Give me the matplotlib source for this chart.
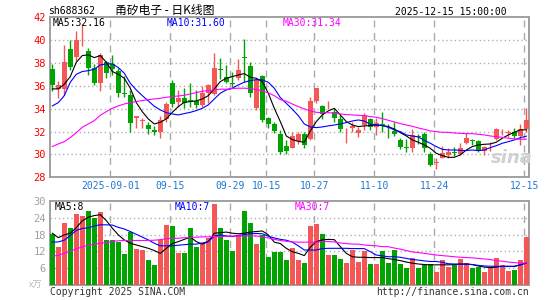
import numpy as np
import matplotlib
matplotlib.use('Agg')
import matplotlib.pyplot as plt

# daily candles, 2025-08-18 .. 2025-12-15 (80 trading days)
opens = [37.52, 35.75, 35.71, 39.24, 38.57, 40.78, 39.07, 37.61, 36.23, 38.07,
         37.90, 37.31, 35.40, 35.21, 33.17, 32.93, 32.58, 32.15, 32.00, 33.08,
         36.29, 34.63, 34.98, 34.75, 34.72, 34.34, 35.42, 35.30, 37.50, 36.76,
         36.26, 36.67, 38.55, 37.75, 34.10, 36.88, 33.17, 32.67, 31.80, 30.74,
         30.60, 31.18, 31.80, 31.33, 34.69, 34.22, 34.20, 33.69, 33.11, 32.03,
         32.29, 31.85, 32.58, 33.08, 32.44, 32.68, 32.08, 32.06, 31.27, 30.63,
         30.60, 31.60, 31.77, 30.04, 29.28, 29.72, 29.96, 30.19, 30.04, 30.98,
         31.24, 31.18, 30.34, 30.89, 31.36, 32.03, 31.92, 32.00, 31.65, 32.23]
highs = [37.93, 36.40, 39.59, 40.06, 40.82, 41.40, 39.36, 37.90, 38.86, 38.19,
         38.72, 37.61, 36.90, 35.65, 33.40, 33.17, 32.88, 32.50, 33.40, 34.63,
         36.53, 35.65, 35.80, 36.29, 35.65, 36.00, 36.15, 38.92, 38.48, 37.84,
         37.26, 38.36, 40.12, 38.13, 36.70, 36.96, 33.31, 32.82, 32.10, 31.27,
         31.95, 31.95, 32.00, 35.07, 35.85, 34.34, 34.69, 34.04, 33.46, 32.34,
         32.88, 32.44, 33.66, 33.17, 33.17, 33.75, 32.64, 32.88, 31.42, 31.33,
         32.23, 31.80, 31.95, 30.25, 29.66, 30.74, 30.60, 30.69, 31.00, 31.86,
         31.36, 31.27, 30.77, 31.12, 32.35, 32.23, 32.12, 32.35, 32.64, 34.04]
lows = [35.59, 34.90, 35.20, 37.40, 38.19, 39.50, 36.96, 36.09, 35.56, 36.67,
        36.96, 35.07, 35.07, 32.00, 32.29, 32.29, 31.82, 31.71, 31.47, 32.88,
        34.19, 34.19, 34.04, 34.19, 34.04, 34.19, 34.54, 35.20, 36.61, 36.23,
        35.94, 36.53, 36.38, 35.07, 33.90, 32.88, 32.29, 31.85, 30.00, 30.00,
        30.55, 30.90, 30.54, 31.27, 34.50, 33.08, 33.95, 32.88, 31.94, 30.98,
        32.00, 31.50, 32.15, 32.15, 31.71, 32.00, 31.41, 31.62, 30.48, 30.19,
        30.25, 30.90, 30.19, 29.02, 28.73, 29.66, 29.72, 29.90, 29.96, 30.89,
        30.83, 30.25, 29.96, 30.31, 31.27, 31.71, 31.56, 31.42, 30.83, 32.00]
closes = [36.09, 36.10, 38.10, 37.69, 40.06, 40.84, 37.61, 36.23, 38.72, 37.17,
          37.49, 35.39, 35.33, 32.79, 33.37, 32.98, 32.20, 32.00, 33.00, 34.42,
          34.42, 34.98, 34.48, 34.70, 34.34, 35.42, 36.06, 37.55, 37.43, 36.38,
          36.20, 37.40, 38.48, 35.42, 36.50, 33.02, 32.67, 32.06, 30.25, 30.31,
          31.62, 31.80, 30.83, 34.69, 35.82, 33.52, 34.26, 33.17, 32.23, 32.08,
          32.52, 32.15, 33.46, 32.44, 32.79, 32.62, 32.03, 31.77, 30.69, 30.58,
          31.71, 31.52, 30.54, 29.08, 29.34, 30.16, 30.25, 30.13, 30.54, 31.42,
          31.18, 30.31, 30.63, 30.95, 32.23, 32.08, 31.96, 31.65, 32.23, 33.02]

ma5 = [35.74, 35.74, 36.15, 36.82, 38.07, 38.66, 38.72, 38.48, 38.66, 38.07,
       37.26, 37.02, 36.67, 35.80, 34.54, 33.75, 33.11, 32.67, 32.82, 33.11,
       33.69, 34.19, 34.57, 34.63, 34.69, 34.86, 35.15, 35.74, 36.38, 36.67,
       36.82, 36.96, 37.08, 36.76, 36.67, 36.38, 35.36, 34.04, 32.88, 31.62,
       31.30, 31.15, 31.07, 32.06, 32.88, 33.46, 33.81, 34.04, 33.46, 32.88,
       32.58, 32.44, 32.50, 32.53, 32.58, 32.53, 32.44, 32.23, 31.91, 31.62,
       31.27, 31.07, 30.83, 30.54, 30.10, 29.90, 29.75, 29.75, 29.96, 30.39,
       30.69, 30.83, 30.89, 30.92, 31.07, 31.42, 31.71, 31.94, 32.15, 32.16]
ma10 = [34.25, 34.54, 35.15, 36.32, 37.02, 37.26, 37.34, 37.46, 37.84, 37.93,
        37.93, 37.61, 37.11, 36.23, 35.65, 35.15, 34.69, 34.22, 33.90, 33.66,
        33.55, 33.46, 33.58, 33.69, 33.84, 34.04, 34.34, 34.86, 35.36, 35.65,
        35.80, 36.09, 36.32, 36.47, 36.55, 36.53, 36.32, 35.80, 34.98, 34.48,
        33.96, 33.40, 32.67, 32.41, 32.35, 32.41, 32.50, 32.58, 32.67, 32.79,
        32.93, 33.02, 32.93, 32.64, 32.58, 32.53, 32.38, 32.15, 32.00, 31.71,
        31.62, 31.53, 31.24, 30.98, 30.69, 30.45, 30.39, 30.39, 30.36, 30.34,
        30.39, 30.34, 30.39, 30.60, 30.77, 30.98, 31.12, 31.27, 31.47, 31.60]
ma30 = [30.69, 30.92, 31.12, 31.47, 31.91, 32.38, 32.67, 32.96, 33.43, 33.75,
        34.04, 34.25, 34.42, 34.54, 34.63, 34.72, 34.80, 34.86, 34.92, 35.01,
        35.07, 35.12, 35.18, 35.30, 35.42, 35.53, 35.59, 35.65, 35.71, 35.71,
        35.77, 35.80, 35.80, 35.77, 35.68, 35.56, 35.39, 35.15, 34.80, 34.66,
        34.42, 34.19, 33.99, 33.81, 33.69, 33.66, 33.66, 33.61, 33.55, 33.49,
        33.46, 33.43, 33.40, 33.31, 33.26, 33.14, 32.99, 32.85, 32.70, 32.58,
        32.47, 32.32, 32.20, 32.06, 32.00, 31.94, 31.94, 31.88, 31.85, 31.82,
        31.82, 31.77, 31.71, 31.62, 31.56, 31.50, 31.42, 31.36, 31.33, 31.34]

# volume (x10k lots)
vol = [18.1, 13.7, 22.0, 20.2, 25.2, 24.5, 26.6, 24.1, 26.0, 15.9,
       16.2, 15.5, 10.9, 19.1, 13.0, 12.5, 9.1, 7.3, 15.9, 21.6,
       20.9, 11.5, 11.5, 20.5, 13.4, 14.9, 16.7, 29.1, 20.2, 16.1,
       12.3, 17.9, 26.3, 22.0, 14.7, 17.9, 10.1, 11.7, 11.9, 8.9,
       13.1, 8.9, 8.0, 20.9, 21.8, 18.3, 10.7, 10.7, 9.3, 8.0,
       12.5, 8.2, 12.2, 7.5, 7.5, 12.2, 8.0, 12.5, 7.5, 6.2,
       9.8, 6.2, 7.2, 7.5, 4.8, 8.9, 6.6, 7.2, 9.3, 8.0,
       6.2, 6.6, 4.8, 6.0, 9.8, 7.2, 5.0, 5.4, 8.9, 17.3]
vma5 = [18.5, 16.9, 17.9, 18.5, 20.5, 22.9, 24.2, 24.8, 25.1, 23.0,
        20.3, 17.9, 16.1, 14.9, 14.3, 13.7, 13.1, 12.3, 11.3, 13.1,
        14.8, 15.5, 16.3, 17.1, 15.5, 14.6, 15.5, 18.5, 18.7, 18.9,
        18.5, 18.3, 18.5, 18.9, 19.1, 19.3, 17.9, 15.3, 14.8, 13.1,
        11.9, 11.3, 10.5, 13.5, 15.5, 16.1, 16.3, 16.2, 13.7, 11.3,
        10.1, 9.9, 9.9, 9.8, 9.8, 9.8, 9.4, 9.1, 8.7, 8.2,
        7.8, 7.5, 7.3, 7.2, 7.2, 7.2, 7.2, 7.3, 7.5, 7.5,
        7.3, 6.8, 6.4, 6.2, 6.4, 6.7, 6.7, 6.6, 7.2, 7.9]
vma10 = [15.3, 15.4, 16.0, 17.7, 19.5, 20.2, 20.4, 21.1, 21.5, 21.5,
         21.4, 20.6, 20.0, 19.1, 18.1, 17.1, 16.1, 14.9, 14.0, 14.0,
         14.0, 14.2, 14.4, 14.6, 14.6, 15.0, 15.5, 17.5, 17.9, 17.5,
         17.3, 17.7, 18.0, 18.3, 18.4, 18.3, 17.4, 16.8, 16.3, 16.0,
         15.3, 14.0, 12.5, 12.5, 12.5, 13.0, 13.1, 13.1, 13.1, 13.1,
         13.0, 13.0, 13.0, 11.9, 10.7, 10.4, 10.1, 10.1, 9.9, 9.5,
         9.1, 8.9, 8.6, 8.4, 8.4, 8.1, 7.6, 7.5, 7.4, 7.4,
         7.3, 7.0, 6.8, 6.7, 6.7, 6.6, 6.6, 6.7, 7.2, 7.8]
vma30 = [10.3, 10.6, 11.3, 12.1, 12.9, 13.6, 14.2, 14.6, 14.9, 15.2,
         15.5, 15.8, 15.9, 15.9, 15.9, 15.9, 15.9, 16.0, 16.2, 16.5,
         16.7, 16.7, 16.9, 16.9, 17.1, 17.2, 17.2, 17.3, 17.3, 17.4,
         17.5, 17.5, 17.5, 17.5, 17.5, 17.2, 16.8, 16.3, 15.9, 15.6,
         15.4, 15.3, 15.3, 15.3, 15.3, 15.5, 15.5, 15.4, 15.0, 14.8,
         14.6, 14.6, 14.3, 14.1, 14.0, 13.7, 13.7, 13.2, 12.8, 12.3,
         11.8, 11.6, 11.3, 11.0, 10.7, 10.5, 10.3, 10.1, 9.9, 9.8,
         9.7, 9.5, 9.3, 9.1, 8.7, 8.5, 8.2, 8.0, 7.8, 7.9]

date_idx = [10, 20, 30, 36, 44, 54, 64, 79]
date_labels = ['2025-09-01', '09-15', '09-29', '10-15', '10-27', '11-10', '11-24', '12-15']
price_ticks = [28, 30, 32, 34, 36, 38, 40, 42]
vol_ticks = [6, 12, 18, 24, 30]

RED = '#f55656'
GREEN = '#00a300'
MONO = 'DejaVu Sans Mono'

W, H = 545, 300
fig = plt.figure(figsize=(W / 100, H / 100), dpi=100)


def box(l, t, r, b):
    return [l / W, 1 - b / H, (r - l) / W, (b - t) / H]


def ftext(px, py, s, **kw):
    kw.setdefault('va', 'center')
    kw.setdefault('fontsize', 7)
    kw.setdefault('family', MONO)
    fig.text(px / W, 1 - py / H, s, **kw)


ax = fig.add_axes(box(50, 17.4, 529, 177.3))
axv = fig.add_axes(box(50, 201, 529, 285))

x = np.arange(len(closes))
o = np.array(opens)
c = np.array(closes)
colors = np.where(c >= o, RED, GREEN)

# candles
ax.vlines(x, lows, highs, colors=colors, lw=1, zorder=3)
ax.bar(x, np.maximum(np.abs(c - o), 0.06), bottom=np.minimum(o, c),
       width=0.75, color=colors, linewidth=0, zorder=3)
ax.plot(x, ma5, color='black', lw=0.8, zorder=4)
ax.plot(x, ma10, color='#0000ff', lw=0.8, zorder=4)
ax.plot(x, ma30, color='#ff00ff', lw=0.8, zorder=4)

# volume
axv.bar(x, vol, width=0.78, color=colors, linewidth=0, zorder=3)
axv.plot(x, vma5, color='black', lw=0.8, zorder=4)
axv.plot(x, vma10, color='#0000ff', lw=0.8, zorder=4)
axv.plot(x, vma30, color='#ff00ff', lw=0.8, zorder=4)

for a in (ax, axv):
    a.set_xlim(-0.383, 79.45)
    for d in date_idx:
        a.axvline(d - 0.33, color='#aaaaaa', lw=1, ls=(0, (5, 4)), zorder=1)
    for s in a.spines.values():
        s.set_color('#a0a0a0')
        s.set_linewidth(1.4)
    a.tick_params(length=0)

ax.set_ylim(28, 42)
ax.set_yticks(price_ticks)
ax.set_yticklabels([str(t) for t in price_ticks], color='#ff0000', fontsize=7.5, family=MONO)
ax.tick_params(axis='y', pad=3)
for t in price_ticks[1:-1]:
    ax.axhline(t, color='#b0b0b0', lw=1, ls=(0, (1, 2)), zorder=1)
ax.set_xticks([d - 0.33 for d in date_idx])
ax.set_xticklabels(date_labels, color='#1e78d8', fontsize=7, family=MONO)
ax.tick_params(axis='x', pad=3)

axv.set_ylim(0, 30)
axv.set_yticks(vol_ticks)
axv.set_yticklabels([str(t) for t in vol_ticks], color='#a0a0a0', fontsize=7.5, family=MONO)
axv.tick_params(axis='y', pad=3)
for t in vol_ticks[:-1]:
    axv.axhline(t, color='#b0b0b0', lw=1, ls=(0, (1, 2)), zorder=1)
axv.set_xticks([])

# header
ftext(48, 11, 'sh688362')
ftext(115, 10, '甬矽电子 - 日K线图', fontsize=8.5, family=['Noto Sans CJK SC', 'DejaVu Sans'])
ftext(507, 12, '2025-12-15 15:00:00', ha='right')

# MA legends
ftext(53, 23.5, 'MA5:%.2f' % ma5[-1], color='black')
ftext(167, 23.5, 'MA10:%.2f' % ma10[-1], color='#0000ff')
ftext(283, 23.5, 'MA30:%.2f' % ma30[-1], color='#ff00ff')
ftext(55, 206.5, 'MA5:8', color='black')
ftext(175, 206.5, 'MA10:7', color='#0000ff')
ftext(295, 206.5, 'MA30:7', color='#ff00ff')

ftext(36, 285, 'x万', color='#b8b8b8', ha='center', fontsize=6.5,
      family=['Noto Sans CJK SC', 'DejaVu Sans'])
ftext(512, 158, 'sina', color='#d0d0d0', ha='center', fontsize=13,
      style='italic', weight='bold', family='DejaVu Sans')

# footer
ftext(50, 292, 'Copyright 2025 SINA.COM', color='#333333')
ftext(529, 292, 'http://finance.sina.com.cn', color='#333333', ha='right')

fig.savefig('out.png', dpi=100)
